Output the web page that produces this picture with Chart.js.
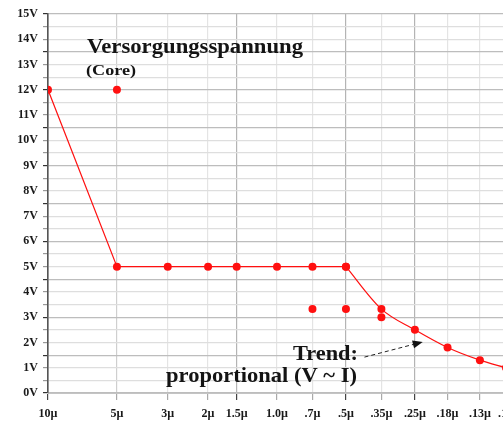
<!DOCTYPE html>
<html>
<head>
<meta charset="utf-8">
<script src="https://cdn.jsdelivr.net/npm/chart.js@4/dist/chart.umd.min.js"></script>
<style>
html,body{margin:0;padding:0;background:#fff;overflow:hidden;}
#wrap{position:relative;width:503px;height:424px;overflow:hidden;}
</style>
</head>
<body>
<div id="wrap"><canvas id="c" width="506" height="424"></canvas></div>
<script>
// Structure sizes (µm) for the x axis ticks
const xTickValues = [10, 5, 3, 2, 1.5, 1.0, 0.7, 0.5, 0.35, 0.25, 0.18, 0.13, 0.1];
const xTickLabels = ['10µ', '5µ', '3µ', '2µ', '1.5µ', '1.0µ', '.7µ', '.5µ', '.35µ', '.25µ', '.18µ', '.13µ', '.1µ'];
const yTickLabelSuffix = 'V';

// Main supply-voltage line (V)
const xMain = [10, 5, 3, 2, 1.5, 1.0, 0.7, 0.5];
const vMain = [12, 5, 5, 5, 5, 5, 5, 5];

// Trend part (proportional V ~ I)
const xTrend = [0.5, 0.35, 0.25, 0.18, 0.13, 0.1];
const vTrend = [5, 3.32, 2.5, 1.8, 1.3, 1.0];

// Extra single points
const xExtra = [5, 0.7, 0.5, 0.35];
const vExtra = [12, 3.32, 3.32, 3.0];

// Annotation texts
const titleText = 'Versorgungsspannung';
const subText = '(Core)';
const trendText1 = 'Trend:';
const trendText2 = 'proportional (V ~ I)';

const toPts = (xs, ys) => xs.map((x, i) => ({x: x, y: ys[i]}));
const RED = '#ff1010';
const SERIF = '"Liberation Serif", "Times New Roman", serif';

const darkX = [10, 1.5, 0.5, 0.25];
const medX = [5];
const darkY = [15, 13.5, 12, 10.5, 9, 7.5, 6, 4.5, 3, 1.5, 0];

const annotations = {
  id: 'annotations',
  afterDatasetsDraw(chart) {
    const ctx = chart.ctx;
    const xs = chart.scales.x, ys = chart.scales.y;
    function txt(t, x, y, size, targetW) {
      ctx.save();
      ctx.font = 'bold ' + size + 'px ' + SERIF;
      ctx.fillStyle = '#141414';
      ctx.textBaseline = 'alphabetic';
      ctx.textAlign = 'left';
      const w = ctx.measureText(t).width;
      const sx = targetW ? targetW / w : 1;
      ctx.translate(x, y);
      ctx.scale(sx, 1);
      ctx.fillText(t, 0, 0);
      ctx.restore();
    }
    txt(titleText, 87, 53, 20, 216);
    txt(subText, 86, 75, 14, 50);
    txt(trendText1, 293, 360, 21, 65);
    txt(trendText2, 166, 382, 21, 191);

    // dashed arrow pointing at the trend curve (data coordinates)
    const x0 = xs.getPixelForValue(0.415), y0 = ys.getPixelForValue(1.42);
    const x1 = xs.getPixelForValue(0.231), y1 = ys.getPixelForValue(2.02);
    ctx.save();
    ctx.strokeStyle = '#222';
    ctx.lineWidth = 1;
    ctx.setLineDash([4, 3]);
    const ang = Math.atan2(y1 - y0, x1 - x0);
    const hl = 10;
    ctx.beginPath();
    ctx.moveTo(x0, y0);
    ctx.lineTo(x1 - Math.cos(ang) * hl, y1 - Math.sin(ang) * hl);
    ctx.stroke();
    ctx.setLineDash([]);
    ctx.fillStyle = '#111';
    ctx.beginPath();
    ctx.moveTo(x1, y1);
    ctx.lineTo(x1 - Math.cos(ang) * hl - Math.sin(ang) * 4, y1 - Math.sin(ang) * hl + Math.cos(ang) * 4);
    ctx.lineTo(x1 - Math.cos(ang) * hl + Math.sin(ang) * 4, y1 - Math.sin(ang) * hl - Math.cos(ang) * 4);
    ctx.closePath();
    ctx.fill();
    ctx.restore();
  }
};

new Chart(document.getElementById('c'), {
  type: 'scatter',
  data: {
    datasets: [
      {label: 'Versorgungsspannung', data: toPts(xMain, vMain), showLine: true, borderColor: RED, borderWidth: 1.2,
       backgroundColor: RED, pointRadius: 4, pointBorderWidth: 0, tension: 0},
      {label: 'Trend', data: toPts(xTrend, vTrend), showLine: true, borderColor: RED, borderWidth: 1.2,
       backgroundColor: RED, pointRadius: 4, pointBorderWidth: 0, cubicInterpolationMode: 'monotone'},
      {label: 'Einzelwerte', data: toPts(xExtra, vExtra), showLine: false, backgroundColor: RED,
       pointRadius: 4, pointBorderWidth: 0}
    ]
  },
  options: {
    responsive: false,
    animation: false,
    events: [],
    layout: {autoPadding: false, padding: {top: 14, right: 0, left: 0, bottom: 0}},
    plugins: {legend: {display: false}, tooltip: {enabled: false}},
    scales: {
      x: {
        type: 'logarithmic',
        reverse: true,
        min: 0.1,
        max: 10,
        afterBuildTicks(scale) { scale.ticks = xTickValues.map(v => ({value: v, major: false})); },
        afterFit(scale) { scale.height = 31; scale.paddingLeft = 0; scale.paddingRight = 0; },
        ticks: {
          autoSkip: false, maxRotation: 0, padding: 7, color: '#1a1a1a',
          font: {family: SERIF, size: 12, weight: 'bold'},
          callback: (v, i) => xTickLabels[i]
        },
        grid: {
          color: ctx => {
            const v = ctx.tick ? ctx.tick.value : null;
            if (darkX.includes(v)) return '#b4b4b4';
            if (medX.includes(v)) return '#cfcfcf';
            return '#e4e4e4';
          },
          lineWidth: 1.2,
          tickLength: 7,
          tickColor: ctx => {
            const v = ctx.tick ? ctx.tick.value : null;
            return darkX.includes(v) ? '#444' : '#aaa';
          }
        },
        border: {display: true, color: '#c4c4c4', width: 1}
      },
      y: {
        min: 0,
        max: 15,
        afterBuildTicks(scale) {
          const t = [];
          for (let i = 0; i <= 30; i++) t.push({value: i / 2});
          scale.ticks = t;
        },
        afterFit(scale) { scale.width = 48; scale.paddingTop = 0; scale.paddingBottom = 0; },
        ticks: {
          autoSkip: false, padding: 5, color: '#1a1a1a',
          font: {family: SERIF, size: 12, weight: 'bold'},
          callback: v => (Number.isInteger(v) ? v + yTickLabelSuffix : '')
        },
        grid: {
          color: ctx => {
            const v = ctx.tick ? ctx.tick.value : null;
            return darkY.includes(v) ? '#bdbdbd' : '#dedede';
          },
          lineWidth: 1.2,
          tickLength: 5,
          tickColor: ctx => {
            const v = ctx.tick ? ctx.tick.value : null;
            return darkY.includes(v) ? '#333' : '#999';
          }
        },
        border: {display: true, color: '#555', width: 1.6}
      }
    }
  },
  plugins: [annotations]
});
</script>
</body>
</html>
